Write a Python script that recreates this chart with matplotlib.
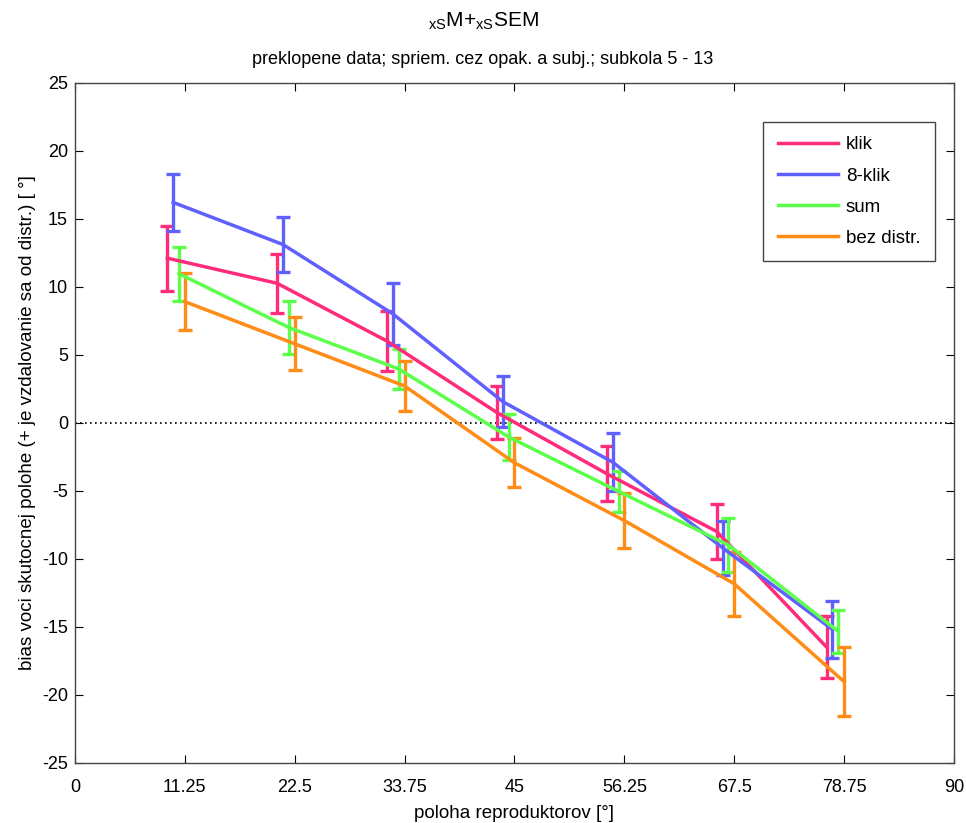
import matplotlib
matplotlib.use('Agg')
import matplotlib.pyplot as plt
from matplotlib.lines import Line2D
import numpy as np

plt.rcParams['font.family'] = ['Liberation Sans', 'DejaVu Sans']
plt.rcParams['mathtext.fontset'] = 'custom'
plt.rcParams['mathtext.rm'] = 'Liberation Sans'
plt.rcParams['axes.unicode_minus'] = False

# speaker positions (deg) and per-series horizontal shift
positions = [11.25, 22.5, 33.75, 45, 56.25, 67.5, 78.75]
labels = ['klik', '8-klik', 'sum', 'bez distr.']
shifts = [-1.8, -1.2, -0.6, 0.0]
colors = ['#FF2B7B', '#6060FF', '#5CFF4A', '#FF8C17']

# mean bias per series
means = {
    'klik':       [12.1, 10.25, 6.0, 0.75, -3.75, -8.0, -16.5],
    '8-klik':     [16.2, 13.1, 8.0, 1.55, -2.9, -9.2, -15.2],
    'sum':        [10.95, 7.0, 3.95, -1.05, -5.05, -9.0, -15.35],
    'bez distr.': [8.9, 5.8, 2.7, -2.95, -7.2, -11.85, -19.05],
}
# standard error of mean
sems = {
    'klik':       [2.4, 2.15, 2.2, 1.95, 2.0, 2.05, 2.25],
    '8-klik':     [2.1, 2.0, 2.3, 1.9, 2.15, 2.0, 2.1],
    'sum':        [2.0, 1.95, 1.45, 1.7, 1.5, 2.0, 1.6],
    'bez distr.': [2.1, 1.95, 1.85, 1.8, 2.0, 2.35, 2.55],
}

fig = plt.figure(figsize=(9.66, 8.23), dpi=100)
ax = fig.add_axes([0.0776, 0.0733, 0.91, 0.8262])

ax.axhline(0, color='black', linestyle=(0, (1, 2)), linewidth=1.2, zorder=1)

for lab, sh, col in zip(labels, shifts, colors):
    x = np.array(positions) + sh
    ax.errorbar(x, means[lab], yerr=sems[lab], color=col, linewidth=2.5,
                elinewidth=2.4, capsize=5, capthick=2.4, label=lab, zorder=3)

ax.set_xlim(0, 90)
ax.set_ylim(-25, 25)
ax.set_xticks([0] + positions + [90])
ax.set_xticklabels(['0', '11.25', '22.5', '33.75', '45', '56.25', '67.5', '78.75', '90'])
ax.set_yticks(np.arange(-25, 26, 5))
ax.tick_params(direction='in', length=6, top=True, right=True, labelsize=13)
ax.tick_params(axis='x', pad=12)
ax.tick_params(axis='y', pad=5)
for s in ax.spines.values():
    s.set_color('#444444')
    s.set_linewidth(1)

ax.set_xlabel('poloha reproduktorov [°]', fontsize=13.5, labelpad=6)
ax.set_ylabel('bias voci skutocnej polohe (+ je vzdalovanie sa od distr.) [ °]', fontsize=13.5, labelpad=4)

fig.text(0.5, 0.974, r'$_{\rm xS}\mathrm{M{+}}_{\rm xS}\mathrm{SEM}$', ha='center', va='center', fontsize=15)
fig.text(0.5, 0.928, 'preklopene data; spriem. cez opak. a subj.; subkola 5 - 13',
         ha='center', va='center', fontsize=13)

hl = [Line2D([], [], color=c, linewidth=2.5) for c in colors]
leg = ax.legend(hl, labels, loc='upper right', bbox_to_anchor=(0.978, 0.942), borderaxespad=0,
                fontsize=13.5, fancybox=False, edgecolor='#444444', framealpha=1,
                handlelength=3.2, handletextpad=0.45, borderpad=0.75, labelspacing=0.75)
leg.get_frame().set_linewidth(1)

fig.savefig('out.png', dpi=100)
